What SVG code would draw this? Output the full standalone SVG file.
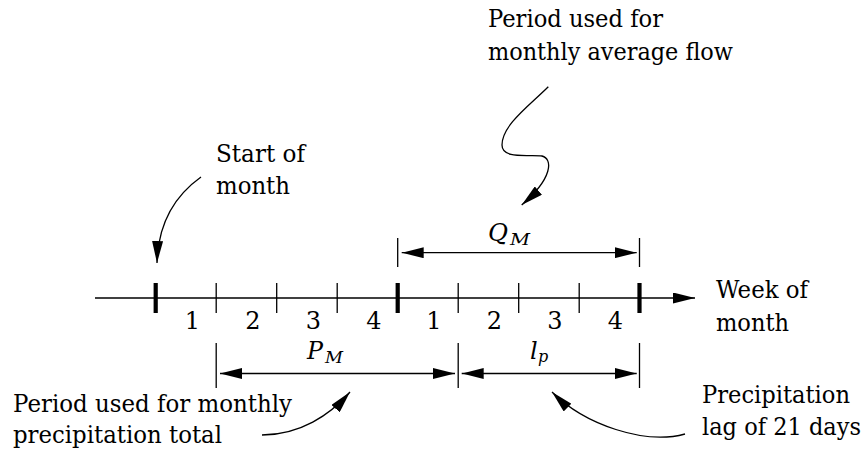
<svg xmlns="http://www.w3.org/2000/svg" width="865" height="454" viewBox="0 0 865 454">
<style>
  .ln { stroke: #000; stroke-width: 1.3; fill: none; }
  .thick { stroke: #000; stroke-width: 4.2; fill: none; }
  text { font-family: "DejaVu Serif", "Liberation Serif", serif; fill: #000; }
  .t { font-size: 25px; }
  .num { font-size: 24px; text-anchor: middle; }
  .m { font-style: italic; font-size: 24px; }
  .s { font-style: italic; font-size: 16px; }
</style>
<defs>
  <marker id="ah" viewBox="0 0 22 11" markerWidth="22" markerHeight="11" refX="22" refY="5.5" orient="auto-start-reverse" markerUnits="userSpaceOnUse">
    <path d="M0,0 L22,5.5 L0,11 z" fill="#000"/>
  </marker>
</defs>
<rect width="865" height="454" fill="#fff"/>

<g id="axis">
  <path class="ln" d="M95 298 H695" marker-end="url(#ah)"/>
  <path class="ln" d="M216.2 283 V313 M276.7 283 V313 M337.2 283 V313 M458.2 283 V313 M518.7 283 V313 M579.2 283 V313"/>
  <path class="thick" d="M155.7 283 V313 M397.7 283 V313 M639.5 283 V313"/>
  <text class="num" x="192.5" y="329">1</text>
  <text class="num" x="253" y="329">2</text>
  <text class="num" x="313.5" y="329">3</text>
  <text class="num" x="374" y="329">4</text>
  <text class="num" x="434" y="329">1</text>
  <text class="num" x="494.5" y="329">2</text>
  <text class="num" x="555" y="329">3</text>
  <text class="num" x="615.5" y="329">4</text>
</g>

<g id="week-label">
  <text class="t" x="716" y="298" textLength="92" lengthAdjust="spacingAndGlyphs">Week of</text>
  <text class="t" x="716" y="331" textLength="73" lengthAdjust="spacingAndGlyphs">month</text>
</g>

<g id="start-label">
  <text class="t" x="216" y="162" textLength="89" lengthAdjust="spacingAndGlyphs">Start of</text>
  <text class="t" x="216" y="194" textLength="74" lengthAdjust="spacingAndGlyphs">month</text>
</g>

<g id="flow-label">
  <text class="t" x="488" y="26.5" textLength="175" lengthAdjust="spacingAndGlyphs">Period used for</text>
  <text class="t" x="488" y="59.5" textLength="245" lengthAdjust="spacingAndGlyphs">monthly average flow</text>
</g>

<g id="precip-label">
  <text class="t" x="13" y="411.5" textLength="279" lengthAdjust="spacingAndGlyphs">Period used for monthly</text>
  <text class="t" x="13" y="443" textLength="209" lengthAdjust="spacingAndGlyphs">precipitation total</text>
</g>

<g id="lag-label">
  <text class="t" x="702" y="403" textLength="148" lengthAdjust="spacingAndGlyphs">Precipitation</text>
  <text class="t" x="702" y="435" textLength="159" lengthAdjust="spacingAndGlyphs">lag of 21 days</text>
</g>

<g id="QM">
  <path class="ln" d="M397.7 238 V267 M639.5 238 V267"/>
  <path class="ln" d="M401.7 252.7 H636.7" marker-start="url(#ah)" marker-end="url(#ah)"/>
  <text class="m" x="488" y="241" textLength="20" lengthAdjust="spacingAndGlyphs">Q</text>
  <text class="s" x="510" y="245" textLength="20" lengthAdjust="spacingAndGlyphs">M</text>
</g>

<g id="PM">
  <path class="ln" d="M216.2 343 V388 M458.2 343 V388"/>
  <path class="ln" d="M220 373.5 H455" marker-start="url(#ah)" marker-end="url(#ah)"/>
  <text class="m" x="307" y="359" textLength="16" lengthAdjust="spacingAndGlyphs">P</text>
  <text class="s" x="325" y="362.5" textLength="18" lengthAdjust="spacingAndGlyphs">M</text>
</g>

<g id="lp">
  <path class="ln" d="M639.5 343 V388"/>
  <path class="ln" d="M461.7 373.5 H636.7" marker-start="url(#ah)" marker-end="url(#ah)"/>
  <text class="m" x="530" y="359">l</text>
  <text class="s" x="538" y="362">p</text>
</g>

<g id="connectors">
  <path class="ln" d="M201 177 C173 197, 158 225, 157 263" marker-end="url(#ah)"/>
  <path class="ln" d="M548.3 86.7 C530 105, 502 125, 502 145 C502 160, 530 154, 542 156 C553 159, 553 178, 521.7 205" marker-end="url(#ah)"/>
  <path class="ln" d="M262 435 C300 435, 330 415, 350 392" marker-end="url(#ah)"/>
  <path class="ln" d="M685 434 C645 445, 585 425, 552 392" marker-end="url(#ah)"/>
</g>
</svg>
